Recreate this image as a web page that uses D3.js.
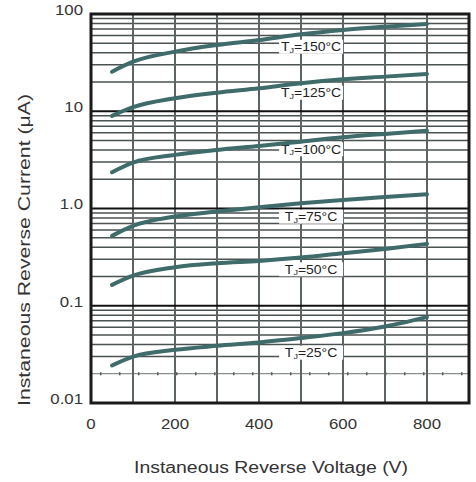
<!DOCTYPE html>
<html><head><meta charset="utf-8">
<script src="https://cdn.jsdelivr.net/npm/d3@7"></script>
<style>body{margin:0;background:#fff;} svg{display:block;font-family:"Liberation Sans",Arial,sans-serif;}</style>
</head><body>
<svg id="c" width="476" height="482"></svg>
<script>
const voltages = [50,100,200,300,400,500,600,700,800];
const tj150 = [25.5,32.3,41,48,54,61.8,68.5,74,79];
const tj125 = [8.95,11.0,13.6,15.5,17.2,19.4,21.3,22.7,24.2];
const tj100 = [2.36,2.96,3.56,4.0,4.4,4.87,5.4,5.85,6.3];
const tj75 = [0.523,0.662,0.826,0.93,1.03,1.13,1.22,1.31,1.40];
const tj50 = [0.164,0.204,0.249,0.274,0.289,0.313,0.347,0.384,0.433];
const tj25 = [0.0243,0.030,0.0352,0.0387,0.0419,0.0465,0.0523,0.0612,0.0764];
const seriesNames = ["150","125","100","75","50","25"];
const labelValues = [46.1,15.5,4.06,0.824,0.237,0.0329];
const labelVoltage = 524;
const xTicks = [0,200,400,600,800];
const yTicks = [100,10,1,0.1,0.01];
const yTickLabels = ["100","10","1.0","0.1","0.01"];
const xTitle = "Instaneous Reverse Voltage (V)";
const yTitle = "Instaneous Reverse Current (μA)";

const svg = d3.select("#c");
const x = d3.scaleLinear().domain([0,900]).range([91,469]);
const y = d3.scaleLog().domain([0.01,100]).range([403,14]);

const g = svg.append("g");
const minors = [];
[0.01,0.1,1,10].forEach(d=>{for(let k=2;k<=9;k++) minors.push(d*k);});
const is002 = d=>Math.abs(d-0.02)<1e-9;
g.selectAll("line.minor").data(minors).join("line")
  .attr("x1",x(0)).attr("x2",x(900))
  .attr("y1",d=>y(d)).attr("y2",d=>y(d))
  .attr("stroke",d=>is002(d)?"#8a9090":"#4a5252")
  .attr("stroke-width",d=>is002(d)?1.2:1.5);
g.append("line").attr("x1",x(0)).attr("x2",x(900))
  .attr("y1",y(0.02)).attr("y2",y(0.02))
  .attr("stroke","#505858").attr("stroke-width",3)
  .attr("stroke-dasharray","1.5,17.5").attr("stroke-dashoffset",-9);
g.selectAll("line.v").data(d3.range(100,900,100)).join("line")
  .attr("x1",d=>x(d)).attr("x2",d=>x(d))
  .attr("y1",y(100)).attr("y2",y(0.01))
  .attr("stroke","#5c6464").attr("stroke-width",2);
g.selectAll("line.maj").data([10,1,0.1]).join("line")
  .attr("x1",x(0)).attr("x2",x(900))
  .attr("y1",d=>y(d)).attr("y2",d=>y(d))
  .attr("stroke","#111").attr("stroke-width",2.2);

const allSeries = [tj150,tj125,tj100,tj75,tj50,tj25];
const lg = svg.append("g");
seriesNames.forEach((n,i)=>{
  const cx = x(labelVoltage), cy = y(labelValues[i]);
  lg.append("rect").attr("x",cx-32).attr("y",cy-7).attr("width",64).attr("height",14).attr("fill","#fff");
  const t = lg.append("text").attr("transform",`translate(${cx},${cy}) scale(1.12,1)`).attr("font-size",12.5)
    .attr("text-anchor","middle").attr("dominant-baseline","central").attr("fill","#222");
  t.append("tspan").text("T");
  t.append("tspan").attr("font-size",8).attr("dy",3).text("J");
  t.append("tspan").attr("dy",-3).text("=" + n + "°C");
});

const line = d3.line().x((d,i)=>x(voltages[i])).y(d=>y(d)).curve(d3.curveMonotoneX);
svg.append("g").selectAll("path").data(allSeries).join("path")
  .attr("d",line).attr("fill","none").attr("stroke","#3f6b6b")
  .attr("stroke-width",4).attr("stroke-linecap","round");

svg.append("rect").attr("x",x(0)).attr("y",y(100)).attr("width",x(900)-x(0)).attr("height",y(0.01)-y(100))
  .attr("fill","none").attr("stroke","#1a1a1a").attr("stroke-width",3);

svg.append("g").selectAll("text").data(xTicks).join("text")
  .attr("transform",d=>`translate(${x(d)},424) scale(1.2,1)`).attr("text-anchor","middle").attr("dominant-baseline","central")
  .attr("font-size",14).attr("fill","#333").text(d=>d);
svg.append("g").selectAll("text").data(yTicks).join("text")
  .attr("transform",d=>`translate(83,${y(d)-4}) scale(1.2,1)`).attr("text-anchor","end").attr("dominant-baseline","central")
  .attr("font-size",14).attr("fill","#333").text((d,i)=>yTickLabels[i]);

svg.append("text").attr("x",271).attr("y",467).attr("text-anchor","middle").attr("dominant-baseline","central")
  .attr("font-size",16).attr("fill","#333").attr("textLength",274).attr("lengthAdjust","spacingAndGlyphs").text(xTitle);
svg.append("text").attr("transform","translate(24,250) rotate(-90)").attr("text-anchor","middle").attr("dominant-baseline","central")
  .attr("font-size",16).attr("fill","#333").attr("textLength",312).attr("lengthAdjust","spacingAndGlyphs").text(yTitle);
</script>
</body></html>
